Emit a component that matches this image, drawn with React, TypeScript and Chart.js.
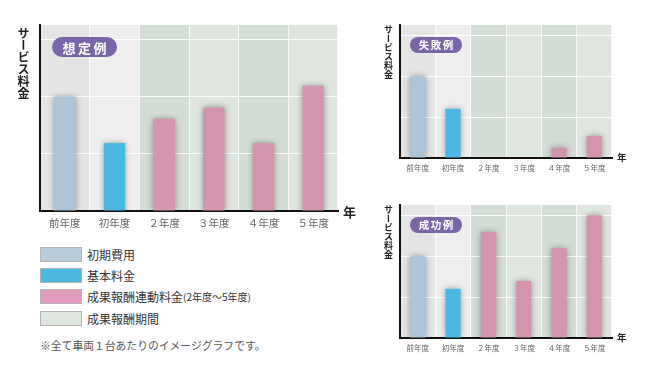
import React, { useEffect, useRef } from "react";
import { Chart, registerables } from "chart.js";

Chart.register(...registerables);

// ---- data ----
const categories = ["前年度", "初年度", "２年度", "３年度", "４年度", "５年度"];
const plannedValues = [2.0, 1.19, 1.61, 1.81, 1.19, 2.19];
const failValues: (number | null)[] = [2.0, 1.2, null, null, 0.25, 0.54];
const successValues = [2.0, 1.2, 2.59, 1.39, 2.2, 3.0];
const yAxisTitle = "サービス料金";
const xAxisUnit = "年";
const chartTitles = ["想定例", "失敗例", "成功例"];
const legendLabels = ["初期費用", "基本料金", "成果報酬連動料金", "成果報酬期間"];
const legendSuffix = "(2年度～5年度)";
const noteText = "※全て車両１台あたりのイメージグラフです。";

// ---- styles ----
const FONT = "'Noto Sans CJK JP', 'Noto Sans', sans-serif";
const barColors = ["#adc5d6", "#4cb8e2", "#d395ae", "#d395ae", "#d395ae", "#d395ae"];
const bandColors = ["#e4e4e4", "#eeeeee", "#d3dcd5", "#dfe6e0", "#d3dcd5", "#dfe6e0"];
const legendColors = ["#b8cddb", "#4cb8e2", "#e39cbb", "#dfe6df"];
const PILL = "#7a66a7";

const bandPlugin = {
  id: "bands",
  beforeDraw(chart: any) {
    const { ctx, chartArea, scales } = chart;
    const xs = scales.x;
    const n = chart.data.labels.length;
    const step = xs.getPixelForValue(1) - xs.getPixelForValue(0);
    ctx.save();
    for (let i = 0; i < n; i++) {
      const c = xs.getPixelForValue(i);
      ctx.fillStyle = bandColors[i];
      ctx.fillRect(c - step / 2, chartArea.top, step, chartArea.bottom - chartArea.top);
    }
    ctx.restore();
  },
};

const shadowPlugin = {
  id: "barShadow",
  beforeDatasetsDraw(chart: any) {
    const c = chart.ctx;
    c.save();
    c.shadowColor = "rgba(0,0,0,0.35)";
    c.shadowBlur = 6;
  },
  afterDatasetsDraw(chart: any) {
    chart.ctx.restore();
  },
};

type Props = {
  values: (number | null)[];
  left: number;
  top: number;
  width: number;
  height: number;
  pad: { left: number; top: number; right: number };
  xHeight: number;
  tickSize: number;
  tickPad: number;
};

function BarPanel(p: Props) {
  const ref = useRef<HTMLCanvasElement | null>(null);
  useEffect(() => {
    if (!ref.current) return;
    const chart = new Chart(ref.current, {
      type: "bar",
      data: {
        labels: categories,
        datasets: [
          {
            data: p.values as any,
            backgroundColor: barColors,
            borderWidth: 0,
            barPercentage: 0.43,
            categoryPercentage: 1,
          },
        ],
      },
      options: {
        animation: false,
        responsive: false,
        maintainAspectRatio: false,
        layout: { padding: { left: p.pad.left, top: p.pad.top, right: p.pad.right, bottom: 0 } },
        plugins: { legend: { display: false }, tooltip: { enabled: false } },
        scales: {
          x: {
            grid: { color: "rgba(255,255,255,0.75)", offset: true, drawTicks: false, lineWidth: 1 },
            border: { color: "#111", width: 2 },
            ticks: { font: { family: FONT, size: p.tickSize }, color: "#666", padding: p.tickPad },
            afterFit: (s: any) => {
              s.height = p.xHeight;
            },
          },
          y: {
            min: 0,
            max: 3.25,
            ticks: { display: false, stepSize: 1, includeBounds: false },
            grid: { color: "rgba(255,255,255,0.9)", drawTicks: false, lineWidth: 1 },
            border: { color: "#111", width: 2 },
            afterFit: (s: any) => {
              s.width = 0;
            },
          },
        },
      } as any,
      plugins: [bandPlugin, shadowPlugin],
    });
    return () => chart.destroy();
  }, []);
  return (
    <canvas
      ref={ref}
      width={p.width}
      height={p.height}
      style={{ position: "absolute", left: p.left, top: p.top, width: p.width, height: p.height }}
    />
  );
}

function Pill({ text, left, top, w, h, size, spacing }: any) {
  return (
    <div
      style={{
        position: "absolute",
        left,
        top,
        width: w,
        height: h,
        borderRadius: h / 2,
        background: PILL,
        color: "#fff",
        fontSize: size,
        fontWeight: 700,
        letterSpacing: spacing,
        display: "flex",
        alignItems: "center",
        justifyContent: "center",
        paddingLeft: spacing,
        boxSizing: "border-box",
        lineHeight: 1,
      }}
    >
      {text}
    </div>
  );
}

function VTitle({ left, top, size }: any) {
  return (
    <div
      style={{
        position: "absolute",
        left,
        top,
        writingMode: "vertical-rl",
        fontSize: size,
        fontWeight: 700,
        lineHeight: `${size + 2}px`,
        color: "#222",
      }}
    >
      {yAxisTitle}
    </div>
  );
}

function Unit({ left, top, size }: any) {
  return (
    <div style={{ position: "absolute", left, top, fontSize: size, fontWeight: 700, color: "#222", lineHeight: 1 }}>
      {xAxisUnit}
    </div>
  );
}

export default function App() {
  const legendTops = [247, 268, 289, 311];
  return (
    <div
      style={{
        position: "fixed",
        left: 0,
        top: 0,
        width: 650,
        height: 367,
        background: "#fff",
        overflow: "hidden",
        fontFamily: FONT,
      }}
    >
      <BarPanel
        values={plannedValues}
        left={0}
        top={0}
        width={360}
        height={240}
        pad={{ left: 40, top: 25, right: 22 }}
        xHeight={29}
        tickSize={10.5}
        tickPad={6}
      />
      <BarPanel
        values={failValues}
        left={360}
        top={0}
        width={290}
        height={180}
        pad={{ left: 40, top: 25, right: 38 }}
        xHeight={22}
        tickSize={7.5}
        tickPad={6}
      />
      <BarPanel
        values={successValues}
        left={360}
        top={180}
        width={290}
        height={187}
        pad={{ left: 40, top: 25, right: 38 }}
        xHeight={29}
        tickSize={7.5}
        tickPad={6}
      />

      <VTitle left={16} top={27} size={12} />
      <VTitle left={383} top={25} size={9} />
      <VTitle left={383} top={205} size={9} />

      <Unit left={343} top={205} size={13} />
      <Unit left={617} top={153} size={9.5} />
      <Unit left={617} top={333} size={9.5} />

      <Pill text={chartTitles[0]} left={52} top={37} w={65} h={20} size={13} spacing={2.5} />
      <Pill text={chartTitles[1]} left={410} top={37} w={52} h={16} size={10.5} spacing={1.5} />
      <Pill text={chartTitles[2]} left={410} top={217} w={52} h={16} size={10.5} spacing={1.5} />

      {legendLabels.map((lab, i) => (
        <React.Fragment key={lab}>
          <div
            style={{
              position: "absolute",
              left: 40,
              top: legendTops[i],
              width: 42,
              height: 15,
              boxSizing: "border-box",
              border: "1px solid #b5b5b5",
              background: legendColors[i],
            }}
          />
          <div
            style={{
              position: "absolute",
              left: 87,
              top: legendTops[i],
              height: 15,
              display: "flex",
              alignItems: "center",
              fontSize: 12,
              color: "#333",
              whiteSpace: "nowrap",
            }}
          >
            {lab}
            {i === 2 ? <span style={{ fontSize: 10 }}>{legendSuffix}</span> : null}
          </div>
        </React.Fragment>
      ))}
      <div
        style={{
          position: "absolute",
          left: 40,
          top: 338,
          fontSize: 10.8,
          color: "#555",
          whiteSpace: "nowrap",
          lineHeight: "14px",
        }}
      >
        {noteText}
      </div>
    </div>
  );
}
